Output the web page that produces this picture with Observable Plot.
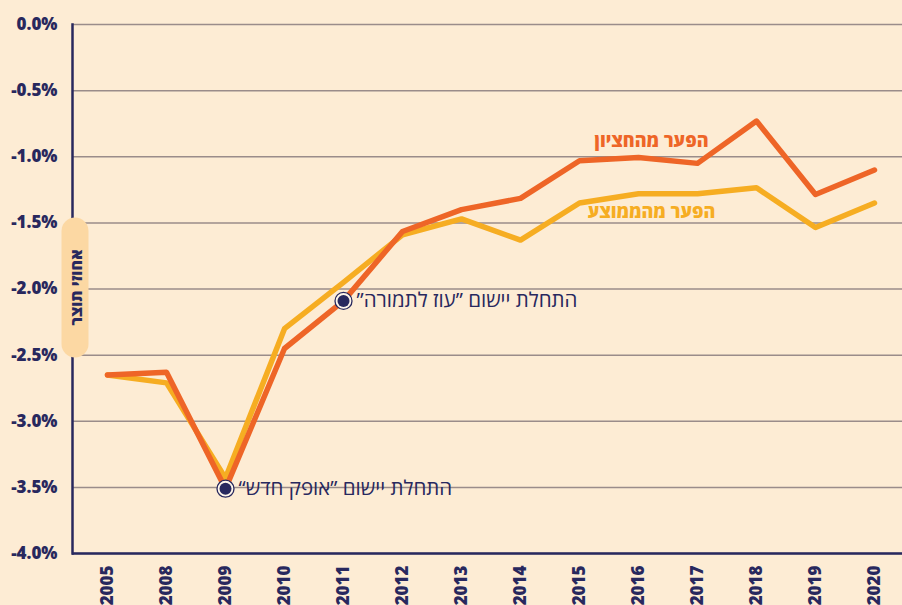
<!DOCTYPE html>
<html><head><meta charset="utf-8">
<script src="https://cdn.jsdelivr.net/npm/d3@7"></script>
<script src="https://cdn.jsdelivr.net/npm/@observablehq/plot@0.6"></script>
<style>
html,body{margin:0;padding:0;background:#fdecd4;}
#wrap{position:relative;width:902px;height:605px;overflow:hidden;}
#ylab{position:absolute;left:5px;top:274px;width:140px;height:27px;border-radius:14px;background:#fcd8a3;
 transform:rotate(-90deg);color:#28285e;font:800 16px "Open Sans","DejaVu Sans",sans-serif;
 display:flex;align-items:center;justify-content:center;direction:rtl;}
</style></head>
<body><div id="wrap"><div id="ylab">אחוזי תוצר</div></div>
<script>
const years = ["2005","2008","2009","2010","2011","2012","2013","2014","2015","2016","2017","2018","2019","2020"];
const medianGap = [-2.65,-2.63,-3.51,-2.45,-2.09,-1.565,-1.40,-1.315,-1.03,-1.005,-1.05,-0.73,-1.285,-1.10];
const meanGap   = [-2.65,-2.71,-3.43,-2.30,-1.95,-1.59,-1.47,-1.63,-1.35,-1.28,-1.28,-1.235,-1.535,-1.35];
const yTicks = [0,-0.5,-1,-1.5,-2,-2.5,-3,-3.5,-4];
const seriesNames = ["הפער מהחציון","הפער מהממוצע"];
const events = [
  {year:"2009", label:"התחלת יישום ”אופק חדש“"},
  {year:"2011", label:"התחלת יישום ”עוז לתמורה”"}
];

const navy = "#28285e", red = "#ee6527", yellow = "#f6ad22";
const rtl = s => "\u202B" + s + "\u202C";
const med = years.map((y,i)=>({year:y, v:medianGap[i]}));
const mean = years.map((y,i)=>({year:y, v:meanGap[i]}));
const ev = events.map(e=>({...e, v: medianGap[years.indexOf(e.year)]}));
const font = '"Open Sans","DejaVu Sans",sans-serif';

const chart = Plot.plot({
  width: 902, height: 605,
  marginLeft: 72, marginRight: 0, marginTop: 24, marginBottom: 52,
  style: {background: "transparent", fontFamily: font},
  x: {type: "point", domain: years, range: [103, 877], padding: 0, label: null},
  y: {domain: [-4, 0], label: null},
  marks: [
    Plot.gridY(yTicks, {stroke: "#9a8c8a", strokeOpacity: 1, strokeWidth: 1.5}),
    Plot.axisY(yTicks, {tickSize: 0, tickPadding: 15, tickFormat: d => d.toFixed(1) + "%", fontSize: 17, fontWeight: 800, fill: navy}),
    Plot.axisX({tickSize: 0, tickPadding: 12, tickRotate: -90, fontSize: 17, fontWeight: 800, fill: navy}),
    Plot.ruleY([-4], {stroke: navy, strokeWidth: 2.5}),
    Plot.frame({anchor: "left", stroke: navy, strokeWidth: 2.5}),
    Plot.line(mean, {x: "year", y: "v", stroke: yellow, strokeWidth: 5.5}),
    Plot.line(med, {x: "year", y: "v", stroke: red, strokeWidth: 5.5}),
    Plot.text([seriesNames[0]], {x: () => "2016", y: () => -0.88, dx: 13, text: d => rtl(d), fill: red, fontSize: 18, fontWeight: 800}),
    Plot.text([seriesNames[1]], {x: () => "2016", y: () => -1.42, dx: 13, text: d => rtl(d), fill: yellow, fontSize: 18, fontWeight: 800}),
    Plot.dot(ev, {x: "year", y: "v", r: 8.5, fill: "#fff6ea", stroke: navy, strokeWidth: 1.3}),
    Plot.dot(ev, {x: "year", y: "v", r: 6, fill: navy}),
    Plot.text(ev, {x: "year", y: "v", text: d => rtl(d.label), textAnchor: "start", dx: 13, fill: navy, fontSize: 20.5})
  ]
});
document.getElementById("wrap").prepend(chart);
</script></body></html>
